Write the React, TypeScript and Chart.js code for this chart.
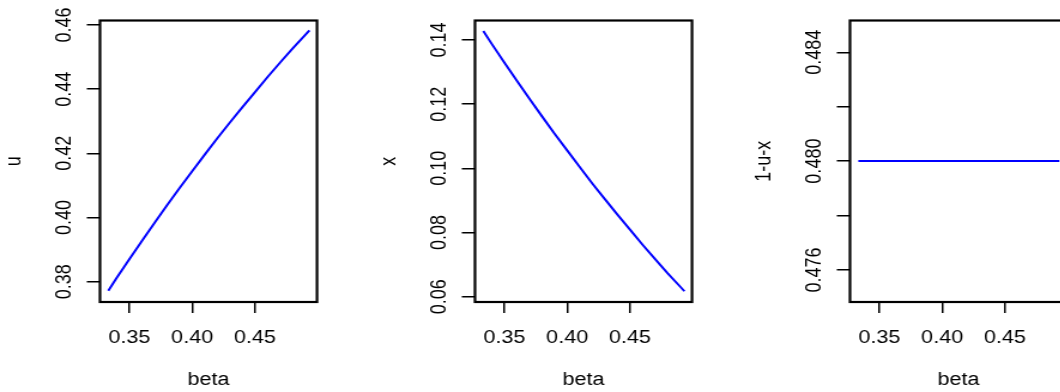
import React, { useEffect, useRef } from "react";
import { Chart, registerables } from "chart.js";

Chart.register(...registerables);

// ---------- data ----------
const BETA = [0.3333, 0.34, 0.35, 0.36, 0.37, 0.38, 0.39, 0.4, 0.41, 0.42, 0.43, 0.44, 0.45, 0.46, 0.47, 0.48, 0.49, 0.4933];
const U_VALUES = [0.3772, 0.3812, 0.387, 0.3927, 0.3983, 0.4038, 0.4092, 0.4144, 0.4196, 0.4247, 0.4296, 0.4344, 0.4391, 0.4438, 0.4483, 0.4527, 0.4569, 0.4583];
const X_VALUES = [0.1428, 0.1388, 0.133, 0.1273, 0.1217, 0.1162, 0.1108, 0.1056, 0.1004, 0.0953, 0.0904, 0.0856, 0.0809, 0.0762, 0.0717, 0.0673, 0.0631, 0.0617];
const REST_VALUES = [0.48, 0.48, 0.48, 0.48, 0.48, 0.48, 0.48, 0.48, 0.48, 0.48, 0.48, 0.48, 0.48, 0.48, 0.48, 0.48, 0.48, 0.48];

const BETA_TICKS = [0.35, 0.4, 0.45];
const U_TICKS = [0.38, 0.4, 0.42, 0.44, 0.46];
const X_TICKS = [0.06, 0.08, 0.1, 0.12, 0.14];
const REST_TICKS = [0.476, 0.478, 0.48, 0.482, 0.484];
const REST_LABELLED = [0.476, 0.48, 0.484];

const BETA_RANGE = [0.32669, 0.49932];
const U_RANGE = [0.37367, 0.4614];
const X_RANGE = [0.05835, 0.14608];
const REST_RANGE = [0.47482, 0.48517];

// ---------- layout ----------
const CANVAS_W = 313;
const CANVAS_H = 392;
const PANEL_STEP = 375; // screen px between panels
const SX = PANEL_STEP / CANVAS_W; // horizontal stretch of the reference
const FONT_FAMILY = "'Liberation Sans', Arial, Helvetica, sans-serif";
const FONT_SIZE = 18;
const BOX_LEFT = 100 / SX;
const BOX_RIGHT = 317 / SX;
const BOX_TOP = 20.5;
const BOX_BOTTOM = 302;
const TICK_LEN_X = 11;
const TICK_LEN_Y = 11;
const YLABEL_CENTER = 65 / SX;

function measure(labels: string[]): number {
  const c = document.createElement("canvas");
  const ctx = c.getContext("2d")!;
  ctx.font = `${FONT_SIZE}px ${FONT_FAMILY}`;
  return Math.max(...labels.map((l) => ctx.measureText(l).width));
}

const boxPlugin = {
  id: "rbox",
  afterDatasetsDraw(chart: any) {
    const { ctx, chartArea: a } = chart;
    ctx.save();
    ctx.strokeStyle = "#000";
    ctx.lineWidth = 2.2;
    ctx.strokeRect(a.left, a.top, a.right - a.left, a.bottom - a.top);
    ctx.restore();
  },
};

type PanelSpec = {
  values: number[];
  yRange: number[];
  yTicks: number[];
  yLabel: (v: number) => string;
  title: string;
};

function makeChart(canvas: HTMLCanvasElement, spec: PanelSpec) {
  const font = { family: FONT_FAMILY, size: FONT_SIZE };
  const labels = spec.yTicks.map(spec.yLabel);
  const widest = measure(labels);
  const yPad = BOX_LEFT - YLABEL_CENTER - TICK_LEN_Y - widest / 2;
  return new Chart(canvas, {
    type: "line",
    data: {
      datasets: [
        {
          data: BETA.map((b, i) => ({ x: b, y: spec.values[i] })),
          borderColor: "#0000FF",
          borderWidth: 2,
          pointRadius: 0,
          tension: 0,
          fill: false,
        },
      ],
    },
    options: {
      animation: false,
      responsive: false,
      maintainAspectRatio: false,
      events: [],
      layout: { padding: { left: 0, top: BOX_TOP, right: CANVAS_W - BOX_RIGHT, bottom: 0 } },
      plugins: { legend: { display: false }, tooltip: { enabled: false }, title: { display: false } },
      scales: {
        x: {
          type: "linear",
          position: "bottom",
          bounds: "data",
          min: BETA_RANGE[0],
          max: BETA_RANGE[1],
          afterBuildTicks: (s: any) => {
            s.ticks = BETA_TICKS.map((v) => ({ value: v }));
          },
          afterFit: (s: any) => {
            s.height = CANVAS_H - BOX_BOTTOM;
          },
          grid: { display: true, drawOnChartArea: false, drawTicks: true, tickLength: TICK_LEN_X, color: "#000", lineWidth: 1.5 },
          border: { display: false },
          ticks: {
            color: "#000",
            font,
            padding: 13.9,
            autoSkip: false,
            minRotation: 0,
            maxRotation: 0,
            callback: (v: any) => Number(v).toFixed(2),
          },
          title: { display: true, text: "beta", color: "#000", font, padding: { top: 0, bottom: 0.8 } },
        },
        y: {
          type: "linear",
          position: "left",
          bounds: "data",
          min: spec.yRange[0],
          max: spec.yRange[1],
          afterBuildTicks: (s: any) => {
            s.ticks = spec.yTicks.map((v) => ({ value: v }));
          },
          afterFit: (s: any) => {
            s.width = BOX_LEFT;
          },
          grid: { display: true, drawOnChartArea: false, drawTicks: true, tickLength: TICK_LEN_Y, color: "#000", lineWidth: 1.5 },
          border: { display: false },
          ticks: {
            color: "#000",
            font,
            padding: yPad,
            autoSkip: false,
            minRotation: 90,
            maxRotation: 90,
            crossAlign: "center",
            callback: (v: any) => spec.yLabel(Number(v)),
          },
          title: { display: true, text: spec.title, color: "#000", font, padding: { top: 12.5 / SX * SX - 10.8, bottom: 0 } },
        },
      },
    },
    plugins: [boxPlugin],
  } as any);
}

const PANELS: PanelSpec[] = [
  { values: U_VALUES, yRange: U_RANGE, yTicks: U_TICKS, yLabel: (v) => v.toFixed(2), title: "u" },
  { values: X_VALUES, yRange: X_RANGE, yTicks: X_TICKS, yLabel: (v) => v.toFixed(2), title: "x" },
  {
    values: REST_VALUES,
    yRange: REST_RANGE,
    yTicks: REST_TICKS,
    yLabel: (v) => (REST_LABELLED.some((t) => Math.abs(t - v) < 1e-9) ? v.toFixed(3) : ""),
    title: "1-u-x",
  },
];

export default function App() {
  const r0 = useRef<HTMLCanvasElement>(null);
  const r1 = useRef<HTMLCanvasElement>(null);
  const r2 = useRef<HTMLCanvasElement>(null);
  const refs = [r0, r1, r2];

  useEffect(() => {
    const charts = refs.map((r, i) => makeChart(r.current!, PANELS[i]));
    return () => charts.forEach((c) => c.destroy());
  }, []);

  return (
    <div
      style={{
        position: "fixed",
        left: 0,
        top: 0,
        width: 1060,
        height: 392,
        overflow: "hidden",
        background: "#fff",
      }}
    >
      {refs.map((r, i) => (
        <div
          key={i}
          style={{
            position: "absolute",
            left: i * PANEL_STEP,
            top: 0,
            width: CANVAS_W,
            height: CANVAS_H,
            transform: `scaleX(${SX})`,
            transformOrigin: "left top",
          }}
        >
          <canvas ref={r} width={CANVAS_W} height={CANVAS_H} style={{ display: "block" }} />
        </div>
      ))}
    </div>
  );
}
